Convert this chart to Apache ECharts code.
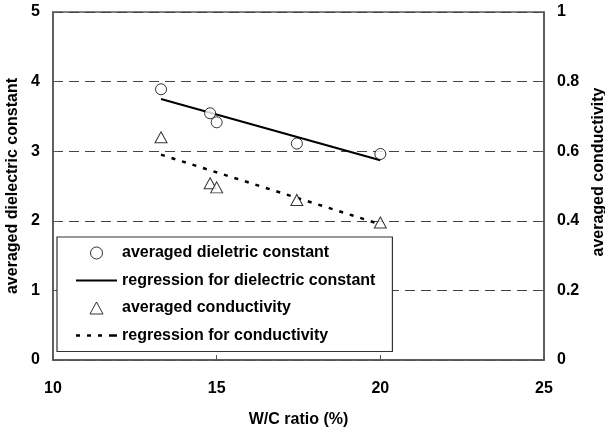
<!DOCTYPE html>
<html>
<head>
<meta charset="utf-8">
<script src="https://cdn.jsdelivr.net/npm/echarts@6/dist/echarts.min.js"></script>
<style>
  html, body { margin: 0; padding: 0; background: #fff; }
  #chart { width: 605px; height: 434px; }
</style>
</head>
<body>
<div id="chart"></div>
<script>
// W/C ratio (%) of the samples
const wcRatio = [13.3, 14.8, 15.0, 17.45, 20.0]
// averaged dielectric constant (left axis)
const dielectric = [3.89, 3.545, 3.415, 3.11, 2.96]
// averaged conductivity (right axis)
const conductivity = [0.64, 0.508, 0.496, 0.46, 0.395]
// regression end points
const fitX = [13.3, 20.0]
const dielectricFit = [3.75, 2.87]
const conductivityFit = [0.59, 0.39]

const font = 'Liberation Sans, Arial, sans-serif'
const pair = (xs, ys) => xs.map((x, i) => [x, ys[i]])

// legend icons (solid line / dotted line / open triangle)
const solidIcon = 'path://M0,0H41V2.2H0Z'
const dotIcon = 'path://M0,0H4V2.5H0Z M11,0H15V2.5H11Z M22,0H26V2.5H22Z M33,0H41V2.5H33Z'
const triIcon = 'path://M6,0L12,11L0,11Z'

const chart = echarts.init(document.getElementById('chart'))

const option = {
  animation: false,
  textStyle: { fontFamily: font, fontWeight: 'bold', color: '#000' },
  grid: {
    left: 53, right: 61, top: 12, bottom: 74,
    outerBoundsMode: 'none', containLabel: false,
    show: true, borderColor: '#555', borderWidth: 1.5
  },
  xAxis: {
    type: 'value', min: 10, max: 25, interval: 5,
    name: 'W/C ratio (%)', nameLocation: 'middle', nameGap: 52,
    nameTextStyle: { fontSize: 16, fontWeight: 'bold', color: '#000' },
    axisLine: { lineStyle: { color: '#555', width: 1.5 } },
    axisTick: { inside: true, length: 5, lineStyle: { color: '#555' } },
    axisLabel: { fontSize: 16, fontWeight: 'bold', color: '#000', margin: 21 },
    splitLine: { show: false }
  },
  yAxis: [
    {
      type: 'value', min: 0, max: 5, interval: 1,
      name: 'averaged dielectric constant', nameLocation: 'middle', nameGap: 32,
      nameTextStyle: { fontSize: 16, fontWeight: 'bold', color: '#000' },
      axisLine: { show: true, lineStyle: { color: '#555', width: 1.5 } },
      axisTick: { show: true, inside: true, length: 5, lineStyle: { color: '#555' } },
      axisLabel: { fontSize: 16, fontWeight: 'bold', color: '#000', margin: 13 },
      splitLine: { show: true, lineStyle: { color: '#444', width: 1.2, type: [10, 6] } }
    },
    {
      type: 'value', min: 0, max: 1, interval: 0.2, position: 'right',
      name: 'averaged conductivity', nameLocation: 'middle', nameGap: 45, nameRotate: 90,
      nameTextStyle: { fontSize: 16, fontWeight: 'bold', color: '#000', padding: [0, 0, 0, 28] },
      axisLine: { show: true, lineStyle: { color: '#555', width: 1.5 } },
      axisTick: { show: true, inside: true, length: 5, lineStyle: { color: '#555' } },
      axisLabel: { fontSize: 16, fontWeight: 'bold', color: '#000', margin: 13 },
      splitLine: { show: false }
    }
  ],
  legend: {
    orient: 'vertical', left: 57, top: 237,
    padding: [8, 17, 8, 19],
    borderColor: '#333', borderWidth: 1.2, backgroundColor: '#fff',
    itemWidth: 41, itemHeight: 12, itemGap: 11.5,
    symbolKeepAspect: true,
    textStyle: { fontSize: 16, fontWeight: 'bold', color: '#000', fontFamily: font },
    data: [
      { name: 'averaged dieletric constant', icon: 'circle',
        itemStyle: { color: '#fff', borderColor: '#000', borderWidth: 1 } },
      { name: 'regression for dielectric constant', icon: solidIcon,
        itemStyle: { color: '#000', borderWidth: 0 } },
      { name: 'averaged conductivity', icon: triIcon,
        itemStyle: { color: '#fff', borderColor: '#000', borderWidth: 1 } },
      { name: 'regression for conductivity', icon: dotIcon,
        itemStyle: { color: '#000', borderWidth: 0 } }
    ]
  },
  series: [
    {
      name: 'averaged dieletric constant', type: 'scatter', yAxisIndex: 0,
      symbol: 'circle', symbolSize: 11, z: 3,
      itemStyle: { color: '#fff', borderColor: '#000', borderWidth: 1 },
      data: pair(wcRatio, dielectric)
    },
    {
      name: 'regression for dielectric constant', type: 'line', yAxisIndex: 0,
      symbol: 'none', z: 2,
      lineStyle: { color: '#000', width: 2.2 },
      itemStyle: { color: '#000' },
      data: pair(fitX, dielectricFit)
    },
    {
      name: 'averaged conductivity', type: 'scatter', yAxisIndex: 1,
      symbol: 'triangle', symbolSize: [12, 11], z: 3,
      itemStyle: { color: '#fff', borderColor: '#000', borderWidth: 1 },
      data: pair(wcRatio, conductivity)
    },
    {
      name: 'regression for conductivity', type: 'line', yAxisIndex: 1,
      symbol: 'none', z: 2,
      lineStyle: { color: '#000', width: 2.5, type: [4, 7] },
      itemStyle: { color: '#000' },
      data: pair(fitX, conductivityFit)
    }
  ]
}

chart.setOption(option)
</script>
</body>
</html>
